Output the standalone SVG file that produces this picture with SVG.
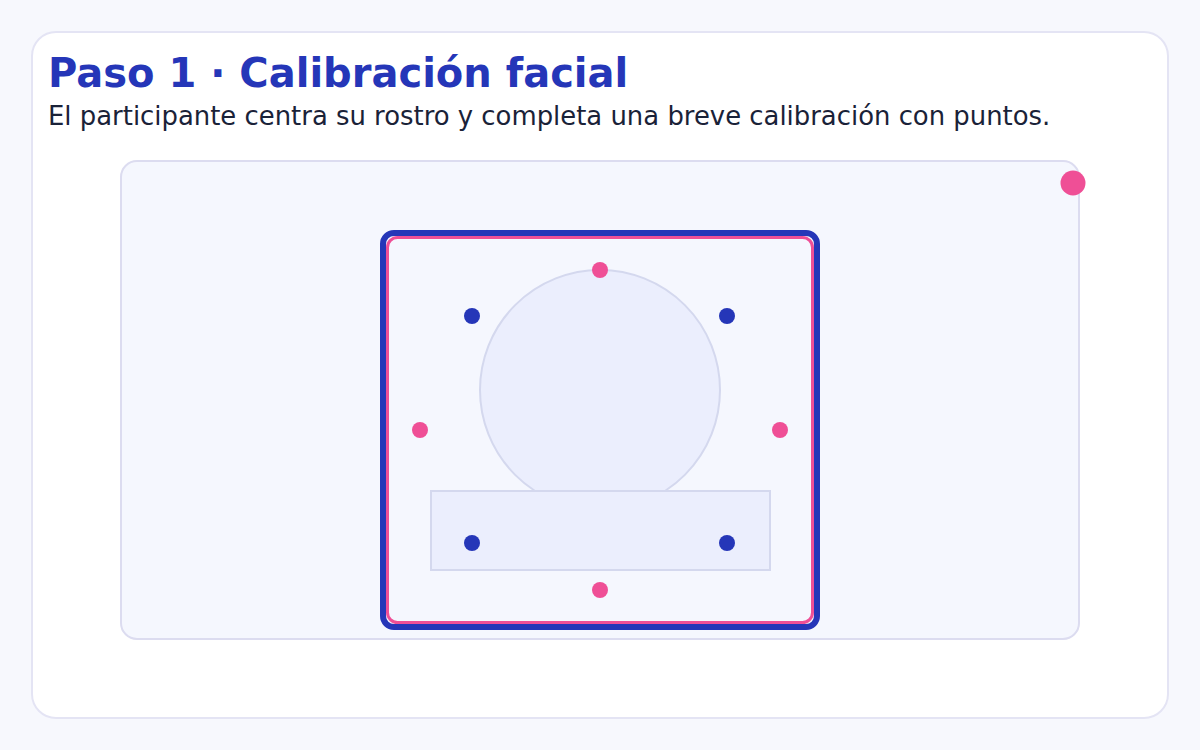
<svg xmlns="http://www.w3.org/2000/svg" width="1200" height="750" viewBox="0 0 1200 750">
<style>
.title{font-family:"DejaVu Sans",sans-serif;font-weight:bold;font-size:40px;fill:#2536b8}
.sub{font-family:"DejaVu Sans",sans-serif;font-size:25.9px;fill:#1a2238}
.bd{fill:#2536b8}
.pd{fill:#ef4f96}
.soft{fill:#ebeefd;stroke:#d4d8ee;stroke-width:2}
</style>
<rect x="0" y="0" width="1200" height="750" fill="#f7f8fd"/>
<rect x="32" y="32" width="1136" height="686" rx="24" fill="#ffffff" stroke="#e4e4f4" stroke-width="2"/>
<text class="title" x="48" y="87">Paso 1 · Calibración facial</text>
<text class="sub" x="48" y="125">El participante centra su rostro y completa una breve calibración con puntos.</text>
<g id="panel">
<rect x="121" y="161" width="958" height="478" rx="16" fill="#f5f7fe" stroke="#dcdcf0" stroke-width="2"/>
</g>
<g id="device">
<rect x="383" y="233" width="434" height="394" rx="11" fill="#f5f7fe" stroke="#2536b8" stroke-width="6"/>
<rect x="387.5" y="237.5" width="425" height="385" rx="10" fill="none" stroke="#ef4f96" stroke-width="3"/>
</g>
<g id="face">
<circle cx="600" cy="390" r="120" class="soft"/>
<rect x="431" y="491" width="339" height="79" class="soft"/>
</g>
<g id="dots">
<circle class="bd" cx="472" cy="316" r="8"/>
<circle class="bd" cx="727" cy="316" r="8"/>
<circle class="bd" cx="472" cy="543" r="8"/>
<circle class="bd" cx="727" cy="543" r="8"/>
<circle class="pd" cx="600" cy="270" r="8"/>
<circle class="pd" cx="420" cy="430" r="8"/>
<circle class="pd" cx="780" cy="430" r="8"/>
<circle class="pd" cx="600" cy="590" r="8"/>
<circle class="pd" cx="1073" cy="183" r="12.5"/>
</g>
</svg>
